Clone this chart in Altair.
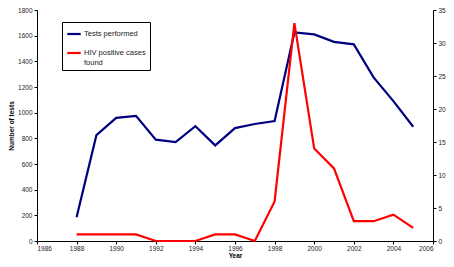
import altair as alt
import pandas as pd

years = list(range(1988, 2006))
tests = [185, 825, 960, 975, 790, 770, 895, 745, 880, 912, 935, 1625, 1610, 1552, 1532, 1275, 1090, 890]
hiv = [1, 1, 1, 1, 0, 0, 0, 1, 1, 0, 6, 33, 14, 11, 3, 3, 4, 2]
series_names = ["Tests performed", "HIV positive cases found"]
series_colors = ["#000080", "#FF0000"]
x_ticks = list(range(1986, 2007, 2))
left_ticks = list(range(0, 1801, 200))
right_ticks = list(range(0, 36, 5))

df = pd.DataFrame({"Year": years, "Tests": tests, "HIV": hiv})

FONT = "Liberation Sans"

color = alt.Color(
    "series:N",
    scale=alt.Scale(domain=series_names, range=series_colors),
    legend=alt.Legend(
        title=None,
        orient="none",
        legendX=25,
        legendY=12,
        symbolType="stroke",
        symbolStrokeWidth=2.2,
        symbolSize=180,
        labelFont=FONT,
        labelFontSize=7.5,
        labelColor="#222222",
        labelBaseline="middle",
        labelOffset=2,
        labelExpr="datum.label == 'HIV positive cases found' ? ['HIV positive cases', 'found'] : datum.label",
        strokeColor="black",
        fillColor="white",
        padding=4,
        rowPadding=6,
        labelLimit=200,
    ),
)

x = alt.X(
    "Year:Q",
    scale=alt.Scale(domain=[1986, 2006], nice=False, zero=False),
    axis=alt.Axis(
        values=x_ticks, format="d", title="Year", grid=False,
        labelFont=FONT, labelFontSize=6.5, labelColor="#222222",
        titleFont=FONT, titleFontSize=6.5, titleFontWeight="bold",
        domainColor="black", tickColor="black", tickSize=3,
        labelPadding=1, titlePadding=1,
    ),
)

base = alt.Chart(df)

tests_line = base.transform_calculate(series="'Tests performed'").mark_line(
    strokeWidth=2.2
).encode(
    x=x,
    y=alt.Y(
        "Tests:Q",
        scale=alt.Scale(domain=[0, 1800], nice=False),
        axis=alt.Axis(
            values=left_ticks, format="d", title="Number of tests", grid=False,
            labelFont=FONT, labelFontSize=6.5, labelColor="#222222",
            titleFont=FONT, titleFontSize=6.5, titleFontWeight="bold",
            domainColor="black", tickColor="black", tickSize=3,
            labelPadding=2, titlePadding=3,
        ),
    ),
    color=color,
)

hiv_line = base.transform_calculate(series="'HIV positive cases found'").mark_line(
    strokeWidth=2.2
).encode(
    x=x,
    y=alt.Y(
        "HIV:Q",
        scale=alt.Scale(domain=[0, 35], nice=False),
        axis=alt.Axis(
            values=right_ticks, title=None, orient="right", grid=False,
            labelFont=FONT, labelFontSize=6.5, labelColor="#222222",
            domainColor="black", tickColor="black", tickSize=3,
            labelPadding=2,
        ),
    ),
    color=color,
)

chart = alt.layer(tests_line, hiv_line).resolve_scale(y="independent").properties(
    width=396,
    height=231,
    autosize=alt.AutoSizeParams(type="none"),
    padding={"left": 29, "top": 2, "right": 13, "bottom": 18},
).configure_view(stroke=None)

chart.save("out.html", embed_options={"renderer": "svg", "actions": False})
